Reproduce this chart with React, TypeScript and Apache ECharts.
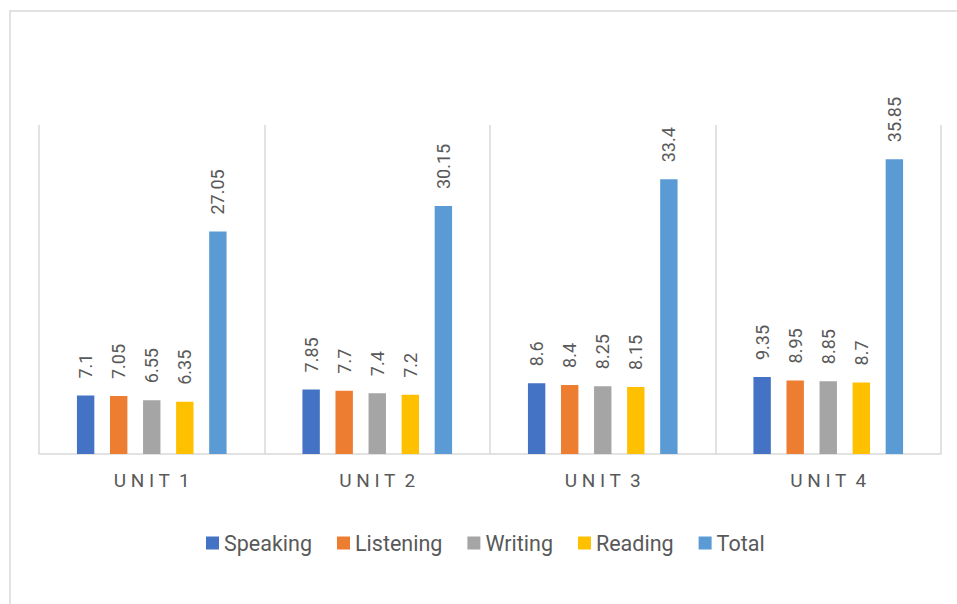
import React, { useEffect, useRef } from "react";
import * as echarts from "echarts";

const categories = ["UNIT 1", "UNIT 2", "UNIT 3", "UNIT 4"];
const seriesNames = ["Speaking", "Listening", "Writing", "Reading", "Total"];
const speaking = [7.1, 7.85, 8.6, 9.35];
const listening = [7.05, 7.7, 8.4, 8.95];
const writing = [6.55, 7.4, 8.25, 8.85];
const reading = [6.35, 7.2, 8.15, 8.7];
const total = [27.05, 30.15, 33.4, 35.85];
const colors = ["#4472C4", "#ED7D31", "#A5A5A5", "#FFC000", "#5B9BD5"];

const FONT = "Roboto, 'Liberation Sans', sans-serif";
const TEXT = "#595959";
const LINE = "#d9d9d9";

export default function App() {
  const ref = useRef<HTMLDivElement>(null);
  useEffect(() => {
    if (!ref.current) return;
    const chart = echarts.init(ref.current, null, { renderer: "svg" });
    const values = [speaking, listening, writing, reading, total];
    chart.setOption({
      animation: false,
      backgroundColor: "#ffffff",
      textStyle: { fontFamily: FONT },
      graphic: [
        {
          type: "rect",
          shape: { x: 10, y: 11, width: 980, height: 620 },
          style: { fill: "none", stroke: LINE, lineWidth: 1.5 },
          silent: true,
        },
      ],
      legend: {
        data: seriesNames,
        left: 201,
        top: 526,
        icon: "rect",
        itemWidth: 13,
        itemHeight: 13,
        itemGap: 25,
        textStyle: { color: TEXT, fontSize: 21.5, fontFamily: FONT, lineHeight: 24 },
      },
      grid: { left: 39, right: 16, top: 125, bottom: 150 },
      xAxis: {
        type: "category",
        data: categories,
        axisLine: { show: true, lineStyle: { color: LINE, width: 1.5 } },
        axisTick: { show: false },
        splitLine: { show: true, lineStyle: { color: LINE, width: 1.5 } },
        axisLabel: {
          color: TEXT,
          fontSize: 19,
          fontFamily: FONT,
          margin: 17,
          formatter: (v: string) =>
            v
              .split(" ")
              .map((w) => w.split("").join(" "))
              .join("  "),
        },
      },
      yAxis: {
        type: "value",
        min: 0,
        max: 40,
        show: false,
        splitLine: { show: false },
      },
      series: seriesNames.map((name, i) => ({
        name,
        type: "bar",
        data: values[i],
        barWidth: 17.4,
        barGap: "90%",
        itemStyle: { color: colors[i] },
        label: {
          show: true,
          position: "top",
          rotate: 90,
          align: "left",
          verticalAlign: "middle",
          distance: 17,
          color: TEXT,
          fontSize: 18,
          fontFamily: FONT,
        },
      })),
    });
    return () => chart.dispose();
  }, []);
  return (
    <div
      ref={ref}
      style={{ position: "absolute", left: 0, top: 0, width: 957, height: 604 }}
    />
  );
}
